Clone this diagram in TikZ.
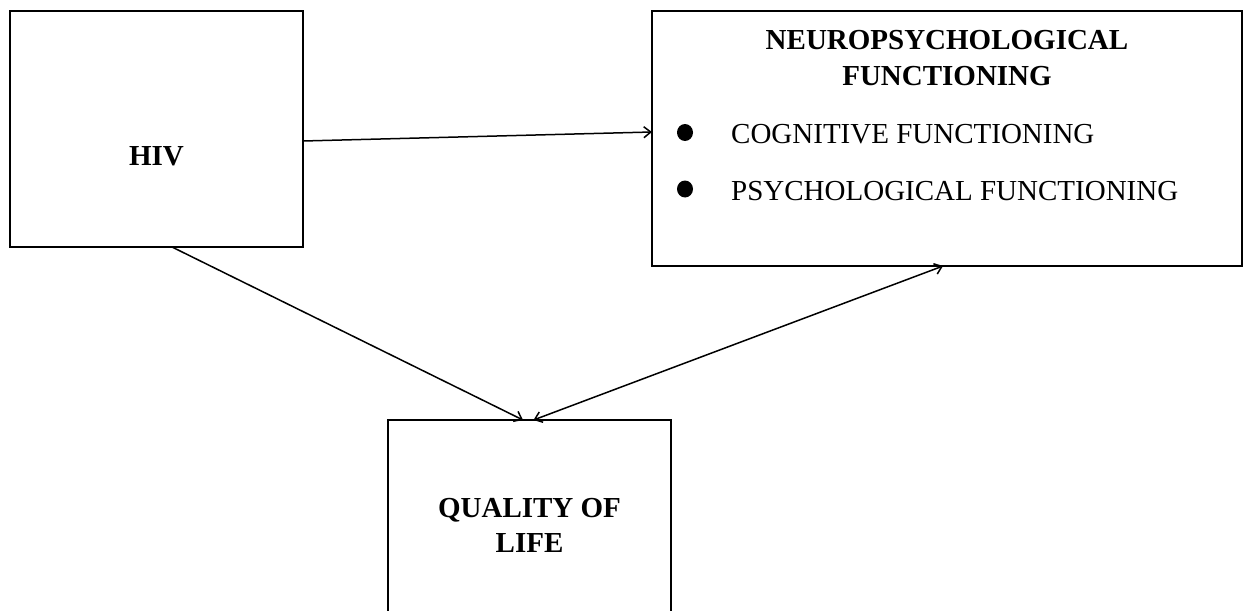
\documentclass[tikz,border=0pt]{standalone}
\usepackage{fontspec}
\setmainfont{Liberation Serif}
\usetikzlibrary{arrows.meta,calc}
\begin{document}
\begin{tikzpicture}[x=1pt,y=-1pt,
  box/.style={draw,line width=1.9pt,inner sep=0pt,outer sep=0pt},
  tip/.style={Straight Barb[length=7pt,width=11pt,line width=1.5pt]},
  conn/.style={line width=1.5pt,-{Straight Barb[length=7pt,width=11pt,line width=1.5pt]}},
  biconn/.style={line width=1.5pt,{Straight Barb[length=7pt,width=11pt,line width=1.5pt]}-{Straight Barb[length=7pt,width=11pt,line width=1.5pt]}},
  txt/.style={anchor=base,inner sep=0pt,font=\fontsize{29}{35}\selectfont},
  btxt/.style={txt,font=\fontsize{29}{35}\selectfont\bfseries}]
\useasboundingbox (0,0) rectangle (1244,610);
\clip (0,0) rectangle (1244,610);
\fill[white] (0,0) rectangle (1244,610);
% boxes
\node[box,minimum width=293pt,minimum height=236pt] (hiv) at (156.5,129) {};
\node[box,minimum width=590pt,minimum height=255pt] (neuro) at (947,138.5) {};
\node[box,minimum width=283pt,minimum height=240pt] (qol) at (529.5,540) {};
% texts
\node[btxt] (hivt) at (156.5,165) {HIV};
\node[btxt] (n1) at (947,50) {NEUROPSYCHOLOGICAL};
\node[btxt] (n2) at (947,85) {FUNCTIONING};
\node[txt,anchor=base west] (c1) at (731,143) {COGNITIVE FUNCTIONING};
\node[txt,anchor=base west] (c2) at (731,200) {PSYCHOLOGICAL FUNCTIONING};
\fill (685,132.5) ellipse [x radius=8, y radius=8.5] coordinate (b1);
\fill (685,189) ellipse [x radius=8, y radius=8.5] coordinate (b2);
\node[btxt] (q1) at (529.5,517) {QUALITY OF};
\node[btxt] (q2) at (529.5,552) {LIFE};
% connectors
\draw[conn] ($(hiv.east)+(0,12)$) -- ($(neuro.west)+(0,-6.5)$);
\draw[conn] ($(hiv.south)+(15.5,0)$) -- ($(qol.north)+(-6.5,0)$);
\draw[biconn] ($(neuro.south)+(-4,0)$) -- ($(qol.north)+(4,0)$);
\end{tikzpicture}
\end{document}
